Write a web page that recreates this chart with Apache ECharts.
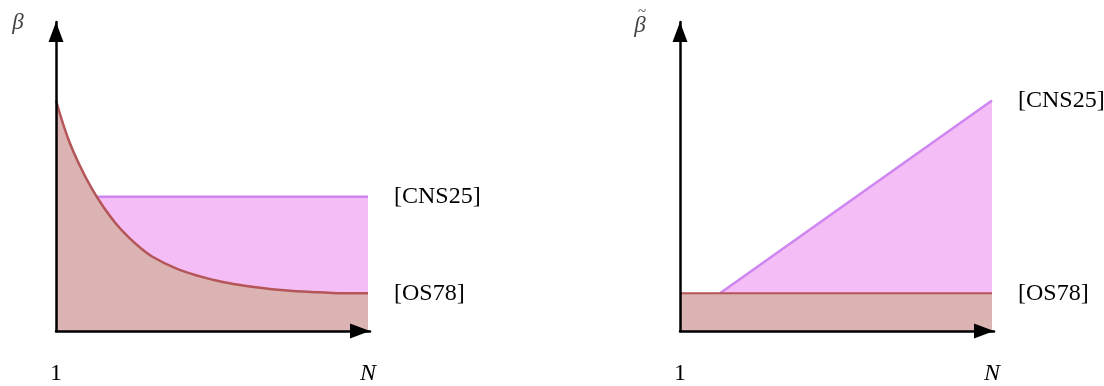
<!DOCTYPE html>
<html>
<head>
<meta charset="utf-8">
<script src="https://cdn.jsdelivr.net/npm/echarts@6/dist/echarts.min.js"></script>
<style>
  html, body { margin: 0; padding: 0; background: #fff; }
  #chart { width: 1104px; height: 386px; }
</style>
</head>
<body>
<div id="chart"></div>
<script>
  // values (x: 0 = "1", 312 = "N"; y: 0 = axis)
  const curveX = [0, 12, 24, 36, 48, 60, 72, 84, 96, 120, 144, 168, 192, 216, 240, 264, 288, 312];
  const curveY = [232, 194, 166, 143, 124, 108, 95, 84, 75, 63, 55, 49, 45, 42, 40, 39, 38, 38];
  const cnsLeftX = [39, 312];
  const cnsLevel = 135;
  const osLevel = 38;
  const osRightX = [0, 312];
  const cnsRightX = [40, 312];
  const cnsRightY = [38, 232];
  const xTicks = [0, 312];
  const xTickLabels = ['1', 'N'];
  const axisMaxX = 314;
  const axisMaxY = 311;

  const FONT = '"Liberation Serif", "DejaVu Serif", serif';
  const PINK = '#f5bdf5';
  const PINK_LINE = '#cf85f0';
  const BROWN = '#dbb3b3';
  const BROWN_LINE = '#b45558';

  const zip = (xs, ys) => xs.map((x, i) => [x, ys[i]]);

  function makeX(gridIndex) {
    return {
      type: 'value', gridIndex, min: 0, max: axisMaxX, z: 10,
      splitLine: { show: false }, axisTick: { show: false },
      axisLine: {
        lineStyle: { color: '#000', width: 2.5 },
        symbol: ['none', 'triangle'], symbolSize: [15, 20], symbolOffset: [0, -10]
      },
      axisLabel: {
        customValues: xTicks, margin: 31,
        fontFamily: FONT, fontSize: 24, color: '#000',
        formatter: (v) => v === xTicks[0] ? xTickLabels[0] : '{i|' + xTickLabels[1] + '}',
        rich: { i: { fontFamily: FONT, fontSize: 24, fontStyle: 'italic', color: '#000' } }
      }
    };
  }

  const nameRich = {
    t: { fontFamily: FONT, fontSize: 15, color: '#444', width: 16, align: 'center', lineHeight: 5, padding: [0, 0, 0, 4] },
    b: { fontFamily: FONT, fontSize: 23, fontStyle: 'italic', color: '#444', width: 16, align: 'center', lineHeight: 22 }
  };

  function makeY(gridIndex, name, gap) {
    return {
      type: 'value', gridIndex, min: 0, max: axisMaxY, z: 10,
      name, nameLocation: 'end', nameGap: gap,
      nameTextStyle: { align: 'right', padding: [0, 30, 0, 0], rich: nameRich },
      splitLine: { show: false }, axisTick: { show: false }, axisLabel: { show: false },
      axisLine: {
        lineStyle: { color: '#000', width: 2.5 },
        symbol: ['none', 'triangle'], symbolSize: [15, 20], symbolOffset: [0, -10]
      }
    };
  }

  function endLabel(text) {
    return {
      show: true, formatter: text, distance: 26,
      fontFamily: FONT, fontSize: 24, color: '#000'
    };
  }

  const option = {
    animation: false,
    grid: [
      { left: 56, top: 22, width: axisMaxX, height: axisMaxY },
      { left: 680, top: 22, width: axisMaxX, height: axisMaxY }
    ],
    xAxis: [makeX(0), makeX(1)],
    yAxis: [makeY(0, '{b|β}', -12), makeY(1, '{t|~}\n{b|β}', -15)],
    series: [
      {
        name: 'CNS25', type: 'line', xAxisIndex: 0, yAxisIndex: 0, z: 2,
        data: cnsLeftX.map((x) => [x, cnsLevel]), symbol: 'none',
        lineStyle: { color: PINK_LINE, width: 2.5 },
        areaStyle: { color: PINK, opacity: 1 },
        endLabel: endLabel('[CNS25]')
      },
      {
        name: 'OS78', type: 'line', xAxisIndex: 0, yAxisIndex: 0, z: 3,
        data: zip(curveX, curveY), symbol: 'none', smooth: 0.4,
        lineStyle: { color: BROWN_LINE, width: 2.5 },
        areaStyle: { color: BROWN, opacity: 1 },
        endLabel: endLabel('[OS78]')
      },
      {
        name: 'CNS25', type: 'line', xAxisIndex: 1, yAxisIndex: 1, z: 2,
        data: zip(cnsRightX, cnsRightY), symbol: 'none',
        lineStyle: { color: PINK_LINE, width: 2.5 },
        areaStyle: { color: PINK, opacity: 1 },
        endLabel: endLabel('[CNS25]')
      },
      {
        name: 'OS78', type: 'line', xAxisIndex: 1, yAxisIndex: 1, z: 3,
        data: osRightX.map((x) => [x, osLevel]), symbol: 'none',
        lineStyle: { color: BROWN_LINE, width: 2 },
        areaStyle: { color: BROWN, opacity: 1 },
        endLabel: endLabel('[OS78]')
      }
    ]
  };

  const chart = echarts.init(document.getElementById('chart'));
  chart.setOption(option);
</script>
</body>
</html>
